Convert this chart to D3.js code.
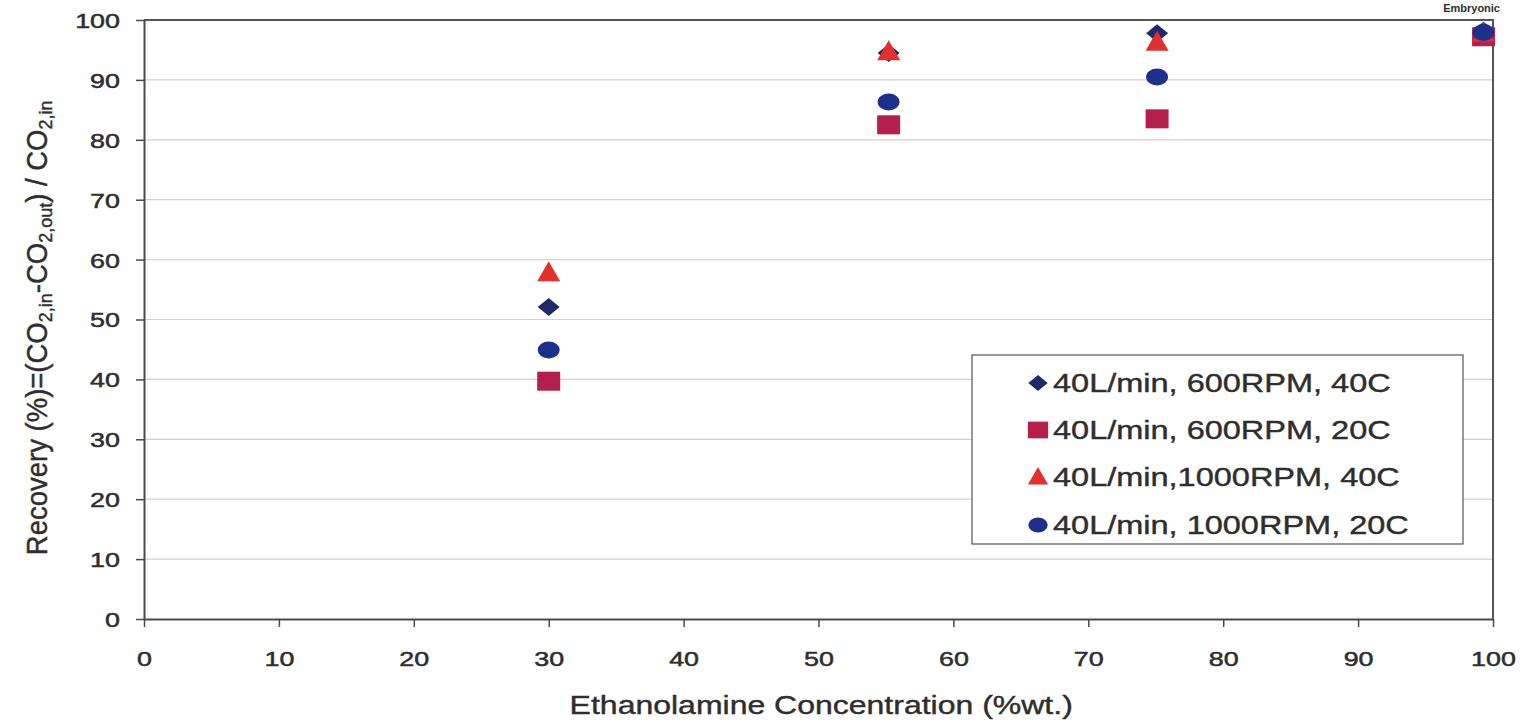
<!DOCTYPE html>
<html>
<head>
<meta charset="utf-8">
<script src="https://cdn.jsdelivr.net/npm/d3@7"></script>
<style>
  html, body { margin: 0; padding: 0; background: #fff; }
  svg { display: block; }
  text { font-family: "Liberation Sans", Arial, sans-serif; fill: #2e2e2e; }
</style>
</head>
<body>
<svg id="chart" width="1522" height="722"></svg>
<script>
// Ethanolamine concentration (%wt.) at which recovery was measured
const concentration = [30, 55.2, 75.1, 99.3];

// Recovery (%) for each operating condition
const rec600rpm40C  = [52.1, 94.5, 97.8, 98.2];
const rec600rpm20C  = [39.7, 82.5, 83.5, 97.2];
const rec1000rpm40C = [57.8, 94.7, 96.3, 97.8];
const rec1000rpm20C = [44.9, 86.3, 90.5, 97.9];

const seriesNames = [
  "40L/min, 600RPM, 40C",
  "40L/min, 600RPM, 20C",
  "40L/min,1000RPM, 40C",
  "40L/min, 1000RPM, 20C"
];
const seriesShapes = ["diamond", "square", "triangle", "circle"];
const seriesColors = ["#1f2a6b", "#b41f4c", "#e2302f", "#1f2f8c"];
const seriesValues = [rec600rpm40C, rec600rpm20C, rec1000rpm40C, rec1000rpm20C];

const xTickValues = [0, 10, 20, 30, 40, 50, 60, 70, 80, 90, 100];
const yTickValues = [0, 10, 20, 30, 40, 50, 60, 70, 80, 90, 100];

const svg = d3.select("#chart");
const plot = { left: 144, right: 1493, top: 20, bottom: 619 };

const x = d3.scaleLinear().domain([0, 100]).range([plot.left, plot.right]);
const y = d3.scaleLinear().domain([0, 100]).range([plot.bottom, plot.top]);

// Horizontal stretch applied to the lettering
const SX = 1.28;
const INK = "#2e2e2e";

// Marker outlines, drawn around (0,0); k scales the whole marker
function shapePath(shape, k) {
  if (shape === "circle") {
    const rx = 11 * k, ry = 8.5 * k;
    return `M${-rx},0A${rx},${ry} 0 1,0 ${rx},0A${rx},${ry} 0 1,0 ${-rx},0Z`;
  }
  const p = d3.path();
  if (shape === "diamond") {
    const rx = 11 * k, ry = 9 * k;
    p.moveTo(0, -ry); p.lineTo(rx, 0); p.lineTo(0, ry); p.lineTo(-rx, 0); p.closePath();
  } else if (shape === "square") {
    const rx = 11.5 * k, ry = 9.5 * k;
    p.rect(-rx, -ry, 2 * rx, 2 * ry);
  } else {
    const rx = 11.5 * k, ry = 10 * k, off = 1.5 * k;
    p.moveTo(0, -ry - off); p.lineTo(rx, ry - off); p.lineTo(-rx, ry - off); p.closePath();
  }
  return p.toString();
}

// Gridlines
svg.append("g")
  .selectAll("line")
  .data(yTickValues.filter(v => v > 0 && v < 100))
  .join("line")
  .attr("x1", plot.left).attr("x2", plot.right)
  .attr("y1", d => y(d)).attr("y2", d => y(d))
  .attr("stroke", "#e3c9cc").attr("stroke-width", 1.2);

// Frame: top and right edges
svg.append("path")
  .attr("d", `M${plot.left},${plot.top}H${plot.right}V${plot.bottom}`)
  .attr("fill", "none").attr("stroke", "#555").attr("stroke-width", 2);

// Axes
const yAxis = d3.axisLeft(y).tickValues(yTickValues).tickSizeInner(8).tickSizeOuter(0).tickFormat(d3.format("d"));
const xAxis = d3.axisBottom(x).tickValues(xTickValues).tickSizeInner(8).tickSizeOuter(0).tickFormat(d3.format("d"));

const gy = svg.append("g").attr("transform", `translate(${plot.left},0)`).call(yAxis);
const gx = svg.append("g").attr("transform", `translate(0,${plot.bottom})`).call(xAxis);

[gx, gy].forEach(g => {
  g.select(".domain").attr("stroke", "#4a4a4a").attr("stroke-width", 2);
  g.selectAll(".tick line").attr("stroke", "#4a4a4a").attr("stroke-width", 1.5);
  g.selectAll(".tick text")
    .attr("font-family", "Liberation Sans, Arial, sans-serif")
    .attr("font-size", 21)
    .attr("fill", INK)
    .attr("stroke", INK).attr("stroke-width", 0.5);
});
gy.selectAll(".tick text")
  .attr("x", null).attr("dy", null)
  .attr("dominant-baseline", "central")
  .attr("transform", `translate(-24,0) scale(${SX},1)`);
gx.selectAll(".tick text")
  .attr("y", null).attr("dy", null)
  .attr("dominant-baseline", "central")
  .attr("transform", `translate(0,40) scale(${SX},1)`);

// Axis titles
svg.append("g")
  .attr("transform", `translate(${x(50.2)},705) scale(${SX},1)`)
  .append("text")
  .attr("text-anchor", "middle")
  .attr("dominant-baseline", "central")
  .attr("font-size", 25)
  .attr("stroke", INK).attr("stroke-width", 0.4)
  .text("Ethanolamine Concentration (%wt.)");

const yTitle = svg.append("g")
  .attr("transform", `translate(37,${y(48.6)}) scale(1.05,1) rotate(-90)`)
  .append("text")
  .attr("text-anchor", "middle")
  .attr("dominant-baseline", "central")
  .attr("font-size", 27.5)
  .attr("stroke", INK).attr("stroke-width", 0.4);
yTitle.append("tspan").text("Recovery (%)=(CO");
yTitle.append("tspan").attr("font-size", 18).attr("dy", 7).text("2,in");
yTitle.append("tspan").attr("dy", -7).text("-CO");
yTitle.append("tspan").attr("font-size", 18).attr("dy", 7).text("2,out");
yTitle.append("tspan").attr("dy", -7).text(") / CO");
yTitle.append("tspan").attr("font-size", 18).attr("dy", 7).text("2,in");

// Data markers, one series after another
seriesValues.forEach((vals, i) => {
  svg.append("g")
    .selectAll("path")
    .data(vals.map((v, j) => ({ c: concentration[j], v })))
    .join("path")
    .attr("transform", d => `translate(${x(d.c)},${y(d.v)})`)
    .attr("d", shapePath(seriesShapes[i], 1))
    .attr("fill", seriesColors[i]);
});

// Legend
const legend = svg.append("g");
legend.append("rect")
  .attr("x", 972).attr("y", 355).attr("width", 491).attr("height", 189)
  .attr("fill", "#fff").attr("stroke", "#555").attr("stroke-width", 1.2);
const rowY = [383, 430, 477, 525];
seriesNames.forEach((name, i) => {
  legend.append("path")
    .attr("transform", `translate(1038,${rowY[i]})`)
    .attr("d", shapePath(seriesShapes[i], 0.88))
    .attr("fill", seriesColors[i]);
  legend.append("g")
    .attr("transform", `translate(1053,${rowY[i]}) scale(${SX},1)`)
    .append("text")
    .attr("dominant-baseline", "central")
    .attr("font-size", 25.4)
    .attr("stroke", INK).attr("stroke-width", 0.4)
    .text(name);
});

// Corner mark
svg.append("text")
  .attr("x", 1500).attr("y", 8)
  .attr("text-anchor", "end")
  .attr("dominant-baseline", "central")
  .attr("font-size", 11)
  .attr("font-weight", "bold")
  .attr("fill", "#111")
  .text("Embryonic");
</script>
</body>
</html>
